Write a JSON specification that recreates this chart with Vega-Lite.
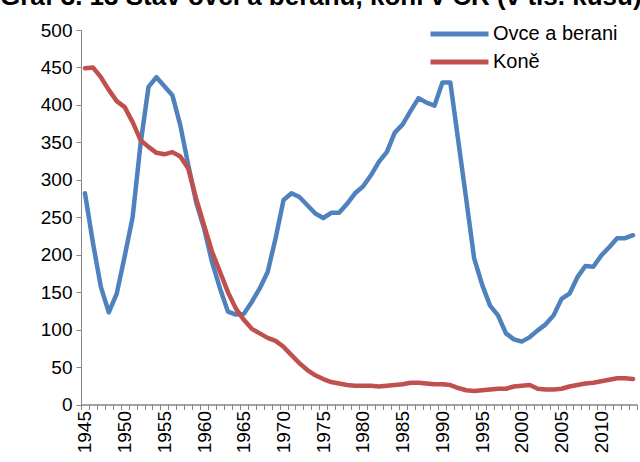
{
  "$schema": "https://vega.github.io/schema/vega-lite/v6.json",
  "autosize": {"type": "none"},
  "padding": {"left": 81, "top": 30, "right": 3, "bottom": 58},
  "width": 556,
  "height": 374.5,
  "background": "white",
  "title": {
    "text": "Graf 3. 13  Stav ovcí a beranů, koní v ČR (v tis. kusů)",
    "anchor": "start",
    "frame": "group",
    "dx": -81,
    "dy": 10,
    "fontSize": 26,
    "fontWeight": "bold",
    "color": "black",
    "baseline": "alphabetic",
    "offset": 0
  },
  "data": {
    "values": [
      {"year": 1945, "series": "Ovce a berani", "value": 282}, {"year": 1945, "series": "Koně", "value": 449},
      {"year": 1946, "series": "Ovce a berani", "value": 216}, {"year": 1946, "series": "Koně", "value": 450},
      {"year": 1947, "series": "Ovce a berani", "value": 157}, {"year": 1947, "series": "Koně", "value": 437},
      {"year": 1948, "series": "Ovce a berani", "value": 123}, {"year": 1948, "series": "Koně", "value": 420},
      {"year": 1949, "series": "Ovce a berani", "value": 148}, {"year": 1949, "series": "Koně", "value": 405},
      {"year": 1950, "series": "Ovce a berani", "value": 198}, {"year": 1950, "series": "Koně", "value": 397},
      {"year": 1951, "series": "Ovce a berani", "value": 250}, {"year": 1951, "series": "Koně", "value": 377},
      {"year": 1952, "series": "Ovce a berani", "value": 348}, {"year": 1952, "series": "Koně", "value": 353},
      {"year": 1953, "series": "Ovce a berani", "value": 424}, {"year": 1953, "series": "Koně", "value": 344},
      {"year": 1954, "series": "Ovce a berani", "value": 437}, {"year": 1954, "series": "Koně", "value": 336},
      {"year": 1955, "series": "Ovce a berani", "value": 425}, {"year": 1955, "series": "Koně", "value": 334},
      {"year": 1956, "series": "Ovce a berani", "value": 413}, {"year": 1956, "series": "Koně", "value": 337},
      {"year": 1957, "series": "Ovce a berani", "value": 373}, {"year": 1957, "series": "Koně", "value": 331},
      {"year": 1958, "series": "Ovce a berani", "value": 320}, {"year": 1958, "series": "Koně", "value": 315},
      {"year": 1959, "series": "Ovce a berani", "value": 270}, {"year": 1959, "series": "Koně", "value": 275},
      {"year": 1960, "series": "Ovce a berani", "value": 235}, {"year": 1960, "series": "Koně", "value": 239},
      {"year": 1961, "series": "Ovce a berani", "value": 190}, {"year": 1961, "series": "Koně", "value": 204},
      {"year": 1962, "series": "Ovce a berani", "value": 155}, {"year": 1962, "series": "Koně", "value": 177},
      {"year": 1963, "series": "Ovce a berani", "value": 124}, {"year": 1963, "series": "Koně", "value": 150},
      {"year": 1964, "series": "Ovce a berani", "value": 120}, {"year": 1964, "series": "Koně", "value": 128},
      {"year": 1965, "series": "Ovce a berani", "value": 121}, {"year": 1965, "series": "Koně", "value": 113},
      {"year": 1966, "series": "Ovce a berani", "value": 137}, {"year": 1966, "series": "Koně", "value": 101},
      {"year": 1967, "series": "Ovce a berani", "value": 155}, {"year": 1967, "series": "Koně", "value": 95},
      {"year": 1968, "series": "Ovce a berani", "value": 177}, {"year": 1968, "series": "Koně", "value": 89},
      {"year": 1969, "series": "Ovce a berani", "value": 222}, {"year": 1969, "series": "Koně", "value": 85},
      {"year": 1970, "series": "Ovce a berani", "value": 273}, {"year": 1970, "series": "Koně", "value": 77},
      {"year": 1971, "series": "Ovce a berani", "value": 282}, {"year": 1971, "series": "Koně", "value": 66},
      {"year": 1972, "series": "Ovce a berani", "value": 277}, {"year": 1972, "series": "Koně", "value": 55},
      {"year": 1973, "series": "Ovce a berani", "value": 266}, {"year": 1973, "series": "Koně", "value": 46},
      {"year": 1974, "series": "Ovce a berani", "value": 255}, {"year": 1974, "series": "Koně", "value": 39},
      {"year": 1975, "series": "Ovce a berani", "value": 249}, {"year": 1975, "series": "Koně", "value": 34},
      {"year": 1976, "series": "Ovce a berani", "value": 256}, {"year": 1976, "series": "Koně", "value": 30},
      {"year": 1977, "series": "Ovce a berani", "value": 256}, {"year": 1977, "series": "Koně", "value": 28},
      {"year": 1978, "series": "Ovce a berani", "value": 268}, {"year": 1978, "series": "Koně", "value": 26},
      {"year": 1979, "series": "Ovce a berani", "value": 282}, {"year": 1979, "series": "Koně", "value": 25},
      {"year": 1980, "series": "Ovce a berani", "value": 291}, {"year": 1980, "series": "Koně", "value": 25},
      {"year": 1981, "series": "Ovce a berani", "value": 306}, {"year": 1981, "series": "Koně", "value": 25},
      {"year": 1982, "series": "Ovce a berani", "value": 324}, {"year": 1982, "series": "Koně", "value": 24},
      {"year": 1983, "series": "Ovce a berani", "value": 337}, {"year": 1983, "series": "Koně", "value": 25},
      {"year": 1984, "series": "Ovce a berani", "value": 363}, {"year": 1984, "series": "Koně", "value": 26},
      {"year": 1985, "series": "Ovce a berani", "value": 374}, {"year": 1985, "series": "Koně", "value": 27},
      {"year": 1986, "series": "Ovce a berani", "value": 392}, {"year": 1986, "series": "Koně", "value": 29},
      {"year": 1987, "series": "Ovce a berani", "value": 409}, {"year": 1987, "series": "Koně", "value": 29},
      {"year": 1988, "series": "Ovce a berani", "value": 403}, {"year": 1988, "series": "Koně", "value": 28},
      {"year": 1989, "series": "Ovce a berani", "value": 399}, {"year": 1989, "series": "Koně", "value": 27},
      {"year": 1990, "series": "Ovce a berani", "value": 430}, {"year": 1990, "series": "Koně", "value": 27},
      {"year": 1991, "series": "Ovce a berani", "value": 430}, {"year": 1991, "series": "Koně", "value": 26},
      {"year": 1992, "series": "Ovce a berani", "value": 352}, {"year": 1992, "series": "Koně", "value": 22},
      {"year": 1993, "series": "Ovce a berani", "value": 274}, {"year": 1993, "series": "Koně", "value": 19},
      {"year": 1994, "series": "Ovce a berani", "value": 195}, {"year": 1994, "series": "Koně", "value": 18},
      {"year": 1995, "series": "Ovce a berani", "value": 160}, {"year": 1995, "series": "Koně", "value": 19},
      {"year": 1996, "series": "Ovce a berani", "value": 132}, {"year": 1996, "series": "Koně", "value": 20},
      {"year": 1997, "series": "Ovce a berani", "value": 119}, {"year": 1997, "series": "Koně", "value": 21},
      {"year": 1998, "series": "Ovce a berani", "value": 95}, {"year": 1998, "series": "Koně", "value": 21},
      {"year": 1999, "series": "Ovce a berani", "value": 87}, {"year": 1999, "series": "Koně", "value": 24},
      {"year": 2000, "series": "Ovce a berani", "value": 84}, {"year": 2000, "series": "Koně", "value": 25},
      {"year": 2001, "series": "Ovce a berani", "value": 90}, {"year": 2001, "series": "Koně", "value": 26},
      {"year": 2002, "series": "Ovce a berani", "value": 99}, {"year": 2002, "series": "Koně", "value": 21},
      {"year": 2003, "series": "Ovce a berani", "value": 107}, {"year": 2003, "series": "Koně", "value": 20},
      {"year": 2004, "series": "Ovce a berani", "value": 119}, {"year": 2004, "series": "Koně", "value": 20},
      {"year": 2005, "series": "Ovce a berani", "value": 141}, {"year": 2005, "series": "Koně", "value": 21},
      {"year": 2006, "series": "Ovce a berani", "value": 148}, {"year": 2006, "series": "Koně", "value": 24},
      {"year": 2007, "series": "Ovce a berani", "value": 170}, {"year": 2007, "series": "Koně", "value": 26},
      {"year": 2008, "series": "Ovce a berani", "value": 185}, {"year": 2008, "series": "Koně", "value": 28},
      {"year": 2009, "series": "Ovce a berani", "value": 184}, {"year": 2009, "series": "Koně", "value": 29},
      {"year": 2010, "series": "Ovce a berani", "value": 199}, {"year": 2010, "series": "Koně", "value": 31},
      {"year": 2011, "series": "Ovce a berani", "value": 210}, {"year": 2011, "series": "Koně", "value": 33},
      {"year": 2012, "series": "Ovce a berani", "value": 222}, {"year": 2012, "series": "Koně", "value": 35},
      {"year": 2013, "series": "Ovce a berani", "value": 222}, {"year": 2013, "series": "Koně", "value": 35},
      {"year": 2014, "series": "Ovce a berani", "value": 226}, {"year": 2014, "series": "Koně", "value": 34}
    ]
  },
  "encoding": {
    "y": {
      "field": "value",
      "type": "quantitative",
      "scale": {"domain": [0, 500], "nice": false, "zero": true},
      "axis": {
        "title": null,
        "values": [0, 50, 100, 150, 200, 250, 300, 350, 400, 450, 500],
        "grid": false,
        "domainColor": "#868686",
        "tickColor": "#868686",
        "tickSize": 5,
        "labelPadding": 4,
        "labelFontSize": 19,
        "labelColor": "black"
      }
    },
    "color": {
      "field": "series",
      "type": "nominal",
      "scale": {"domain": ["Ovce a berani", "Koně"], "range": ["#4F81BD", "#C0504D"]},
      "legend": {
        "title": null,
        "orient": "none",
        "legendX": 347,
        "legendY": -6,
        "padding": 0,
        "symbolType": "stroke",
        "symbolSize": 3364,
        "symbolStrokeWidth": 5,
        "clipHeight": 20,
        "labelOffset": 2,
        "labelFontSize": 20,
        "labelColor": "black",
        "rowPadding": 8
      }
    }
  },
  "layer": [
    {
      "transform": [{"filter": "datum.series === 'Ovce a berani'"}],
      "mark": {"type": "line", "strokeWidth": 4.5, "strokeJoin": "round", "strokeCap": "round"},
      "encoding": {
        "x": {
          "field": "year",
          "type": "quantitative",
          "scale": {"domain": [1944.5, 2014.5], "nice": false, "zero": false},
          "axis": {
            "title": null,
            "orient": "bottom",
            "values": [1945, 1950, 1955, 1960, 1965, 1970, 1975, 1980, 1985, 1990, 1995, 2000, 2005, 2010],
            "format": "d",
            "ticks": false,
            "grid": false,
            "domainColor": "#868686",
            "labelAngle": -90,
            "labelAlign": "right",
            "labelBaseline": "middle",
            "labelPadding": 6,
            "labelFontSize": 19,
            "labelColor": "black",
            "labelOverlap": false
          }
        }
      }
    },
    {
      "transform": [{"filter": "datum.series === 'Koně'"}],
      "mark": {"type": "line", "strokeWidth": 4.5, "strokeJoin": "round", "strokeCap": "round"},
      "encoding": {
        "x": {
          "field": "year",
          "type": "quantitative",
          "scale": {"domain": [1944.5, 2014.5], "nice": false, "zero": false},
          "axis": {
            "title": null,
            "orient": "bottom",
            "values": [1944.5, 1945.5, 1946.5, 1947.5, 1948.5, 1949.5, 1950.5, 1951.5, 1952.5, 1953.5, 1954.5, 1955.5, 1956.5, 1957.5, 1958.5, 1959.5, 1960.5, 1961.5, 1962.5, 1963.5, 1964.5, 1965.5, 1966.5, 1967.5, 1968.5, 1969.5, 1970.5, 1971.5, 1972.5, 1973.5, 1974.5, 1975.5, 1976.5, 1977.5, 1978.5, 1979.5, 1980.5, 1981.5, 1982.5, 1983.5, 1984.5, 1985.5, 1986.5, 1987.5, 1988.5, 1989.5, 1990.5, 1991.5, 1992.5, 1993.5, 1994.5, 1995.5, 1996.5, 1997.5, 1998.5, 1999.5, 2000.5, 2001.5, 2002.5, 2003.5, 2004.5, 2005.5, 2006.5, 2007.5, 2008.5, 2009.5, 2010.5, 2011.5, 2012.5, 2013.5, 2014.5],
            "labels": false,
            "ticks": true,
            "tickSize": 5,
            "tickColor": "#868686",
            "domainColor": "#868686",
            "grid": false
          }
        }
      }
    }
  ],
  "resolve": {"axis": {"x": "independent"}},
  "config": {
    "font": "Liberation Sans",
    "view": {"stroke": null}
  }
}
